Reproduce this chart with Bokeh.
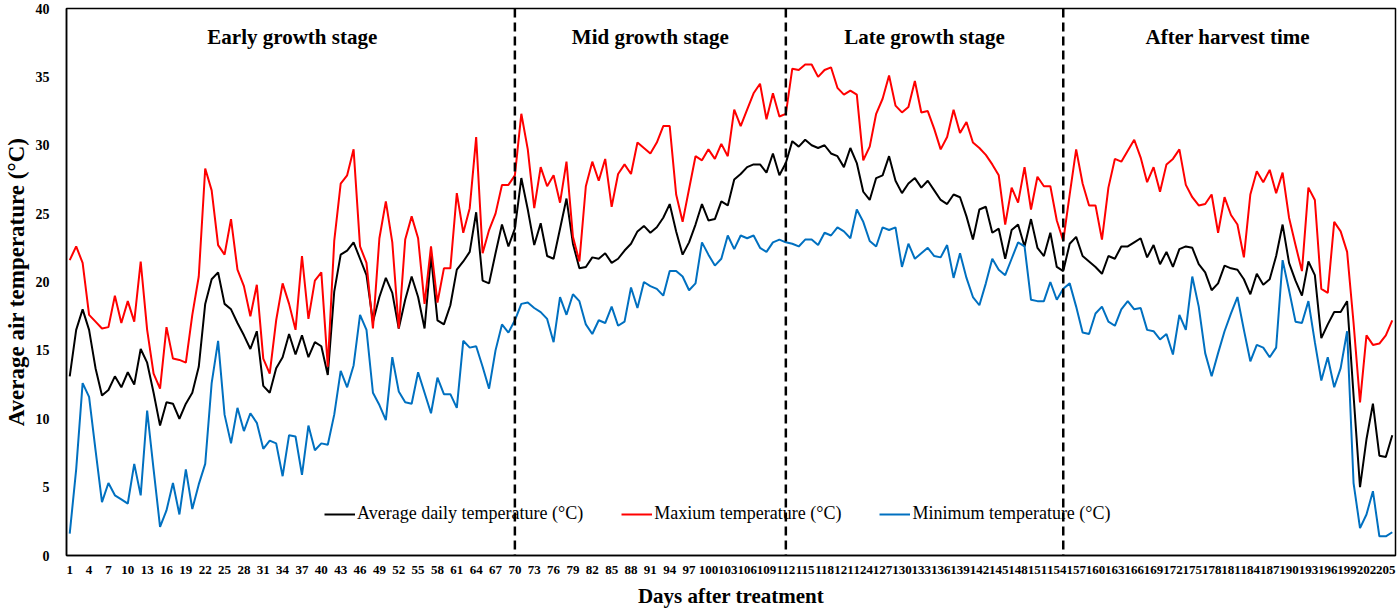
from bokeh.plotting import figure
from bokeh.models import FixedTicker, Span, Legend, LegendItem, Range1d
from bokeh.embed import file_html
from bokeh.resources import INLINE
from bokeh.core.properties import value

days = list(range(1, 207))

avg_temp = [
    13.1, 16.5, 18.0, 16.5, 13.7, 11.7, 12.1, 13.1, 12.3, 13.4, 12.5, 15.1, 14.1, 11.9, 9.5,
    11.2, 11.1, 10.0, 11.1, 11.9, 13.8, 18.4, 20.2, 20.7, 18.4, 18.0, 17.0, 16.1, 15.1, 16.4,
    12.4, 11.9, 13.7, 14.5, 16.2, 14.7, 16.1, 14.5, 15.6, 15.3, 13.2, 19.3, 22.0, 22.3, 22.9,
    21.7, 20.5, 17.1, 18.9, 20.3, 19.2, 16.6, 18.7, 20.4, 18.9, 16.6, 21.9, 17.2, 16.9, 18.3,
    20.9, 21.5, 22.2, 25.1, 20.1, 19.9, 22.1, 24.2, 22.6, 23.9, 27.6, 25.3, 22.7, 24.3, 21.9,
    21.7, 23.9, 26.1, 22.8, 21.0, 21.1, 21.8, 21.7, 22.1, 21.4, 21.7, 22.3, 22.8,
    23.7, 24.1, 23.6, 24.0, 24.7, 25.7, 23.7, 22.0, 22.9, 24.2, 25.7, 24.5, 24.6, 25.9, 25.6,
    27.5, 27.9, 28.4, 28.6, 28.6, 28.0, 29.4, 27.8, 28.7, 30.3, 29.9, 30.4, 30.0, 29.8,
    30.0, 29.4, 29.2, 28.4, 29.8, 28.7, 26.6, 26.0, 27.6, 27.8, 29.2, 27.4, 26.5, 27.2, 27.6,
    26.9, 27.4, 26.7, 26.0, 25.7, 26.4, 26.2, 24.8, 23.1, 25.3, 25.5, 23.6, 23.9, 21.7, 23.8,
    24.2, 22.6, 24.6, 22.5, 21.9, 23.6, 21.1, 20.8, 22.8, 23.3, 21.9, 21.5, 21.1, 20.6, 21.9,
    21.7, 22.6, 22.6, 22.9, 23.2, 21.8, 22.7, 21.3, 22.2, 21.1, 22.4, 22.6, 22.5, 21.3, 20.7,
    19.4, 19.9, 21.2, 21.0, 20.9, 20.2, 19.1, 20.6, 19.8, 20.2, 21.9, 24.2, 21.4, 20.1, 19.0,
    21.5, 20.5, 15.9, 16.9, 17.8, 17.8, 18.6, 11.7, 5.0, 8.5, 11.1, 7.3, 7.2, 8.8,
]

max_temp = [
    21.6, 22.6, 21.4, 17.6, 17.1, 16.6, 16.7, 19.0, 17.0, 18.6, 17.1, 21.5, 16.5, 13.3, 12.2,
    16.7, 14.4, 14.3, 14.1, 17.6, 20.4, 28.3, 26.7, 22.7, 22.0, 24.6, 20.9, 19.7, 17.5, 19.8,
    14.4, 13.3, 17.2, 19.9, 18.4, 16.5, 21.9, 17.3, 20.1, 20.7, 13.8, 23.0, 27.2, 27.8, 29.7,
    22.6, 21.4, 16.6, 23.2, 25.9, 22.9, 16.6, 23.1, 24.8, 23.2, 18.4, 22.6, 18.5, 21.0, 21.0,
    26.5, 23.6, 25.4, 30.6, 22.1, 23.8, 25.0, 27.1, 27.1, 27.8, 32.3, 29.7, 25.4, 28.4, 27.0,
    27.8, 25.8, 28.8, 23.3, 21.5, 27.0, 28.8, 27.4, 29.0, 25.5, 27.9, 28.6, 27.9,
    30.2, 29.8, 29.4, 30.2, 31.4, 31.4, 26.4, 24.4, 26.8, 29.2, 28.9, 29.7, 29.0, 30.1, 29.2,
    32.6, 31.4, 32.6, 33.8, 34.5, 31.9, 33.8, 32.1, 32.3, 35.6, 35.5, 35.9, 35.9, 35.0,
    35.5, 35.7, 34.2, 33.7, 34.0, 33.7, 28.9, 29.9, 32.3, 33.4, 35.1, 32.9, 32.4, 32.8, 34.7,
    32.4, 32.5, 31.2, 29.7, 30.6, 32.6, 30.9, 31.7, 30.2, 29.8, 29.3, 28.6, 27.8, 24.2, 26.9,
    25.8, 28.4, 25.3, 27.7, 27.0, 27.0, 24.5, 23.0, 26.4, 29.7, 27.2, 25.6, 25.6, 23.1, 26.9,
    29.0, 28.8, 29.6, 30.4, 29.1, 27.3, 28.4, 26.6, 28.6, 29.0, 29.7, 27.1, 26.2, 25.6, 25.7,
    26.4, 23.6, 26.2, 24.9, 24.2, 21.8, 26.4, 28.1, 27.3, 28.2, 26.5, 28.0, 24.7, 22.7, 20.8,
    26.9, 26.0, 19.5, 19.2, 24.4, 23.7, 22.2, 17.0, 11.2, 16.1, 15.4, 15.5, 16.1, 17.2,
]

min_temp = [
    1.6, 6.3, 12.6, 11.6, 7.7, 3.9, 5.3, 4.4, 4.1, 3.8, 6.7, 4.4, 10.6, 6.3, 2.1,
    3.3, 5.3, 3.0, 6.3, 3.4, 5.2, 6.7, 12.6, 15.7, 10.3, 8.2, 10.8, 9.1, 10.4, 9.7,
    7.8, 8.4, 8.2, 5.8, 8.8, 8.7, 5.9, 9.5, 7.7, 8.2, 8.1, 10.3, 13.5, 12.3, 13.9,
    17.6, 16.5, 11.9, 11.0, 9.9, 14.5, 12.0, 11.2, 11.1, 13.4, 11.9, 10.4, 13.0, 11.8, 11.8,
    10.8, 15.7, 15.2, 15.3, 13.8, 12.2, 15.0, 16.9, 16.3, 17.2, 18.4, 18.5, 18.1, 17.8, 17.3,
    15.6, 18.9, 17.6, 19.1, 18.6, 16.9, 16.2, 17.2, 17.0, 18.2, 16.8, 17.1, 19.6,
    18.1, 20.0, 19.7, 19.5, 19.0, 20.8, 20.8, 20.4, 19.4, 19.9, 22.9, 22.0, 21.2, 21.7, 23.4,
    22.4, 23.4, 23.2, 23.4, 22.5, 22.2, 22.9, 23.1, 22.9, 22.8, 22.6, 23.1, 23.1, 22.7,
    23.6, 23.4, 24.0, 23.7, 23.2, 25.3, 24.4, 23.0, 22.6, 24.0, 23.8, 24.0, 21.1, 22.8, 21.7,
    22.1, 22.5, 21.9, 21.8, 22.7, 20.3, 22.1, 20.3, 18.9, 18.3, 19.9, 21.7, 20.9, 20.5, 21.7,
    22.9, 22.6, 18.7, 18.6, 18.6, 20.0, 18.7, 19.5, 19.9, 18.2, 16.3, 16.2, 17.7, 18.2, 17.1,
    16.8, 18.0, 18.6, 18.0, 18.1, 16.5, 16.4, 15.8, 16.2, 14.7, 17.6, 16.5, 20.4, 18.2, 14.8,
    13.1, 14.8, 16.4, 17.7, 18.9, 16.5, 14.2, 15.4, 15.2, 14.5, 15.2, 21.6, 19.4, 17.1, 17.0,
    18.6, 15.6, 12.8, 14.5, 12.3, 13.7, 16.4, 5.3, 2.0, 3.0, 4.7, 1.4, 1.4, 1.7,
]

x_ticks = list(range(1, 206, 3))
y_ticks = [0, 5, 10, 15, 20, 25, 30, 35, 40]
stage_names = ["Early growth stage", "Mid growth stage", "Late growth stage", "After harvest time"]
stage_bounds = [70, 112, 155]
series_names = ["Average daily temperature (\u00b0C)", "Maxium temperature (\u00b0C)", "Minimum temperature (\u00b0C)"]

assert len(avg_temp) == len(max_temp) == len(min_temp) == len(days)

SERIF = "Liberation Serif"

p = figure(width=1399, height=610, output_backend="svg", toolbar_location=None,
           x_range=Range1d(0.5, len(days) + 0.5), y_range=Range1d(0, 40),
           min_border_left=66, min_border_right=4, min_border_top=8, min_border_bottom=55)
p.background_fill_color = "white"
p.border_fill_color = "white"
p.outline_line_color = "black"
p.outline_line_width = 1.5
p.xgrid.visible = False
p.ygrid.visible = False

# axes
p.xaxis.ticker = FixedTicker(ticks=x_ticks)
p.yaxis.ticker = FixedTicker(ticks=y_ticks)
for ax in (p.xaxis[0], p.yaxis[0]):
    ax.axis_line_color = "black"
    ax.axis_line_width = 1.5
    ax.major_tick_line_color = None
    ax.minor_tick_line_color = None
    ax.major_label_text_font = SERIF
    ax.major_label_text_font_style = "bold"
    ax.major_label_text_color = "black"
    ax.axis_label_text_font = SERIF
    ax.axis_label_text_font_style = "bold"
    ax.axis_label_text_color = "black"
p.xaxis.axis_label_text_font_size = "21px"
p.yaxis.axis_label_text_font_size = "23px"
p.xaxis.major_label_text_font_size = "13px"
p.yaxis.major_label_text_font_size = "14px"
p.xaxis.major_label_standoff = 4
p.yaxis.major_label_standoff = 11
p.xaxis.axis_label = "Days after treatment"
p.yaxis.axis_label = "Average air temperature (\u00b0C)"
p.xaxis.axis_label_standoff = 7
p.yaxis.axis_label_standoff = 4

# stage boundaries
for b in stage_bounds:
    p.add_layout(Span(location=b, dimension="height", line_color="black",
                      line_width=2.5, line_dash="9 5"))

# stage titles centred in each stage
edges = [days[0]] + stage_bounds + [days[-1]]
centers = [(edges[i] + edges[i + 1]) / 2 for i in range(len(stage_names))]
p.text(x=centers, y=[37.9] * len(centers), text=stage_names,
       text_font=value(SERIF), text_font_style="bold", text_font_size="21px",
       text_align="center", text_baseline="middle", text_color="black")

# series
r_avg = p.line(days, avg_temp, line_color="black", line_width=2)
r_max = p.line(days, max_temp, line_color="#FF0000", line_width=2)
r_min = p.line(days, min_temp, line_color="#0070C0", line_width=2)

legend = Legend(items=[LegendItem(label=series_names[0], renderers=[r_avg]),
                       LegendItem(label=series_names[1], renderers=[r_max]),
                       LegendItem(label=series_names[2], renderers=[r_min])],
                orientation="horizontal", location=(258, 31),
                label_text_font=SERIF, label_text_font_size="18px",
                label_text_color="black",
                glyph_width=31, glyph_height=20, label_standoff=2, spacing=38,
                padding=0, margin=0, border_line_alpha=0, background_fill_alpha=0)
p.add_layout(legend)

open("out.html", "w").write(file_html(p, INLINE))
